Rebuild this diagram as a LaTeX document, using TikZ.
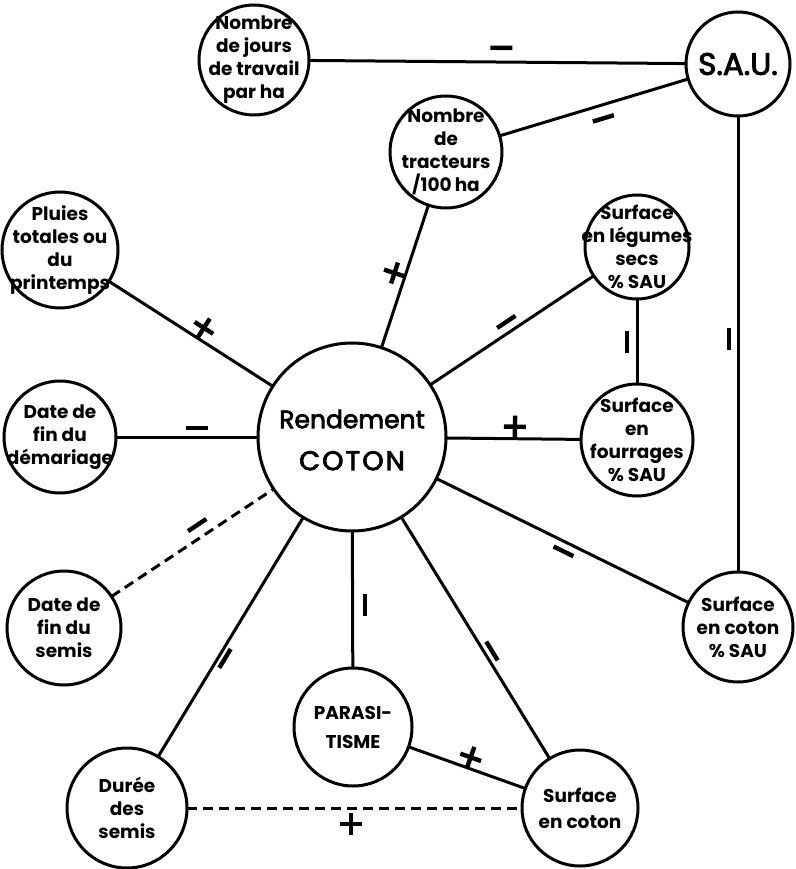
\documentclass[tikz,border=0pt]{standalone}
\usepackage{fontspec}
\setmainfont{Poppins}
\newfontfamily\midfont{Poppins}[FakeBold=3]
% sign marks drawn as rules so that they turn with sloped labels
\newcommand\mminus{\rule[-2.2pt]{22pt}{4.4pt}}
\newcommand\mvminus{\rule[-11pt]{4.4pt}{22pt}}
\newcommand\mplus{\rule[-2.2pt]{22pt}{4.4pt}\kern-13.2pt\rule[-11pt]{4.4pt}{22pt}\kern8.8pt}
\begin{document}
\begin{tikzpicture}[x=1pt,y=-1pt,
  every node/.style={inner sep=0pt, outer sep=0pt},
  station/.style={circle, draw, line width=3pt, minimum size=#1},
  txt/.style={align=center, font=\fontsize{18.5}{23}\selectfont\bfseries},
  link/.style={line width=3pt},
  dlink/.style={line width=3pt, dash pattern=on 10pt off 6pt},
  sign/.style={sloped}
]
\useasboundingbox (0,0) rectangle (795,869);

% outer factors
\node[station=110pt, label={[txt]center:{Nombre\\de jours\\de travail\\par ha}}] (jours) at (254,60) {};
\node[station=104pt, label={[font=\fontsize{31}{31}\selectfont\midfont]center:{S.A.U.}}] (sau) at (738,64) {};
\node[station=112pt, label={[txt]center:{Nombre\\de\\tracteurs\\/100\,ha}}] (tract) at (446,152) {};
\node[station=116pt, label={[txt]center:{Pluies\\totales ou\\du\\printemps}}] (pluies) at (60,250) {};
\node[station=104pt, label={[txt]center:{Surface\\en légumes\\secs\\\% SAU}}] (legumes) at (637,247) {};
\node[station=112pt, label={[txt]center:{Date de\\fin du\\démariage}}] (demar) at (60,437) {};
\node[station=112pt, label={[txt]center:{Surface\\en\\fourrages\\\% SAU}}] (fourr) at (637,440) {};
\node[station=114pt, label={[txt]center:{Date de\\fin du\\semis}}] (semis) at (64,628) {};
\node[station=110pt, label={[txt]center:{Surface\\en coton\\\% SAU}}] (cotsau) at (738,627) {};
\node[station=118pt, label={[txt, font=\fontsize{18.5}{29}\selectfont\bfseries]center:{PARASI-\\TISME}}] (para) at (353,727) {};
\node[station=120pt, label={[txt]center:{Durée\\des\\semis}}] (duree) at (127,808) {};
\node[station=116pt, label={[txt, font=\fontsize{18.5}{26}\selectfont\bfseries]center:{Surface\\en coton}}] (surfcot) at (580,808) {};

% central yield
\node[station=188pt, label={[align=center, yshift=-3pt, font=\fontsize{25}{42}\selectfont\midfont]center:{Rendement\\{\fontsize{27}{42}\selectfont\addfontfeatures{LetterSpace=8}COTON}}}] (rend) at (352,437) {};

% relations around S.A.U.
\draw[link] (jours) -- node[sign, pos=0.51, above=12pt] {\mminus} (sau);
\draw[link] (sau) -- node[sign, pos=0.47, below=11pt] {\mminus} (tract);
\draw[link] (sau) -- node[pos=0.49, left=7pt] {\mvminus} (cotsau);
\draw[link] (legumes) -- node[pos=0.5, left=8pt] {\mvminus} (fourr);

% relations with the yield
\draw[link] (pluies) -- node[sign, pos=0.54, above=1pt] {\mplus} (rend);
\draw[link] (tract) -- node[sign, pos=0.5, above=0pt] {\mplus} (rend);
\draw[link] (legumes) -- node[sign, pos=0.5, above=8pt] {\mminus} (rend);
\draw[link] (demar) -- node[sign, pos=0.57, above=7pt] {\mminus} (rend);
\draw[link] (fourr) -- node[sign, pos=0.49, above=1pt] {\mplus} (rend);
\draw[dlink] (semis) -- node[sign, pos=0.57, above=10pt] {\mminus} (rend);
\draw[link] (cotsau) -- node[sign, pos=0.48, below=7pt] {\mminus} (rend);
\draw[link] (rend) -- node[pos=0.54, right=10pt] {\mvminus} (para);
\draw[link] (rend) -- node[sign, pos=0.57, above=5pt] {\mminus} (surfcot);
\draw[link] (rend) -- node[sign, pos=0.576, below=4pt] {\mminus} (duree);

% lower relations
\draw[link] (para) -- node[sign, pos=0.5, above=0pt] {\mplus} (surfcot);
\draw[dlink] (duree) -- node[sign, pos=0.49, below=5pt] {\mplus} (surfcot);
\end{tikzpicture}
\end{document}
